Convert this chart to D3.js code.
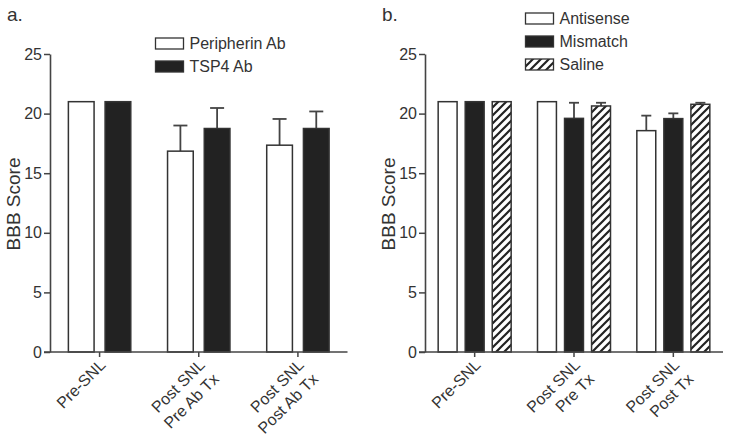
<!DOCTYPE html>
<html><head><meta charset="utf-8">
<script src="https://cdn.jsdelivr.net/npm/d3@7"></script>
<style>
body{margin:0;background:#fff;}
text{font-family:"Liberation Sans",Arial,Helvetica,sans-serif;fill:#333;}
</style></head><body>
<svg id="c" width="729" height="441"></svg>
<script>
// ---- data ----
const catsA = [["Pre-SNL"], ["Post SNL", "Pre Ab Tx"], ["Post SNL", "Post Ab Tx"]];
const seriesA = ["Peripherin Ab", "TSP4 Ab"];
const peripherinMean = [21, 16.85, 17.35];
const peripherinSem = [0, 2.15, 2.2];
const tsp4Mean = [21, 18.75, 18.75];
const tsp4Sem = [0, 1.72, 1.43];

const catsB = [["Pre-SNL"], ["Post SNL", "Pre Tx"], ["Post SNL", "Post Tx"]];
const seriesB = ["Antisense", "Mismatch", "Saline"];
const antisenseMean = [21, 21, 18.57];
const antisenseSem = [0, 0, 1.26];
const mismatchMean = [21, 19.6, 19.58];
const mismatchSem = [0, 1.31, 0.44];
const salineMean = [21, 20.64, 20.78];
const salineSem = [0, 0.27, 0.13];

const yTicks = [0, 5, 10, 15, 20, 25];
const yTitle = "BBB Score";

const svg = d3.select("#c");
const defs = svg.append("defs");
const pat = defs.append("pattern").attr("id", "hatch").attr("patternUnits", "userSpaceOnUse")
  .attr("width", 8).attr("height", 8);
pat.append("rect").attr("width", 8).attr("height", 8).attr("fill", "#fff");
pat.append("path").attr("d", "M-2,2 l4,-4 M0,8 l8,-8 M6,10 l4,-4")
  .attr("stroke", "#222").attr("stroke-width", 2.2);

const fills = {white: "#fff", black: "#222", hatch: "url(#hatch)"};

function panel(opt) {
  const g = svg.append("g");
  const y = d3.scaleLinear().domain([0, 25]).range([352, 54]);
  const keys = opt.cats.map((c, i) => i);
  const x = d3.scaleBand().domain(keys).range([opt.x0, opt.x1]).padding(0);
  const inner = d3.scaleBand().domain(opt.series).range([-opt.half, opt.half])
    .paddingInner(opt.pin).paddingOuter(0);
  const bw = inner.bandwidth();

  // bars
  opt.series.forEach((s, si) => {
    const means = opt.means[si], sems = opt.sems[si];
    const gs = g.append("g");
    keys.forEach(k => {
      const bx = x(k) + x.bandwidth() / 2 + inner(s);
      const m = means[k], e = sems[k];
      if (e > 0) {
        const cx = bx + bw / 2;
        gs.append("line").attr("x1", cx).attr("x2", cx).attr("y1", y(m)).attr("y2", y(m + e))
          .attr("stroke", "#444").attr("stroke-width", 1.8);
        gs.append("line").attr("x1", cx - opt.cap / 2).attr("x2", cx + opt.cap / 2)
          .attr("y1", y(m + e)).attr("y2", y(m + e))
          .attr("stroke", "#444").attr("stroke-width", 1.8);
      }
      gs.append("rect").attr("x", bx).attr("width", bw)
        .attr("y", y(m)).attr("height", y(0) - y(m))
        .attr("fill", fills[opt.fills[si]]).attr("stroke", "#333").attr("stroke-width", 1.5);
    });
  });

  // y axis
  const ya = g.append("g").attr("transform", `translate(${opt.x0},0)`)
    .call(d3.axisLeft(y).tickValues(yTicks).tickSize(6).tickSizeOuter(0).tickPadding(2));
  ya.select(".domain").attr("stroke", "#444").attr("stroke-width", 1.6);
  ya.selectAll(".tick line").attr("stroke", "#444").attr("stroke-width", 1.5);
  ya.selectAll(".tick text").style("font-size", "16px").attr("fill", "#333")
    .style("font-family", '"Liberation Sans",Arial,sans-serif');

  // x axis
  const xa = g.append("g").attr("transform", `translate(0,${y(0)})`)
    .call(d3.axisBottom(x).tickSize(5).tickSizeOuter(0).tickFormat(""));
  xa.select(".domain").remove();
  xa.selectAll(".tick text").remove();
  xa.append("line").attr("x1", opt.x0 - 6).attr("x2", opt.x1).attr("y1", 0).attr("y2", 0)
    .attr("stroke", "#444").attr("stroke-width", 1.6);
  xa.selectAll(".tick line").attr("stroke", "#444").attr("stroke-width", 1.5);
  const lh = 20 * Math.SQRT1_2;
  keys.forEach(k => {
    const cx = x(k) + x.bandwidth() / 2;
    opt.cats[k].forEach((line, li) => {
      g.append("text")
        .attr("transform", `translate(${cx + 7 + li * lh},${y(0) + 14 + li * lh}) rotate(-45)`)
        .attr("text-anchor", "end").style("font-size", "16px").text(line);
    });
  });

  // y title
  g.append("text").attr("transform", `translate(${opt.x0 - 30},204) rotate(-90)`)
    .attr("text-anchor", "middle").style("font-size", "19px").text(yTitle);

  // panel letter
  g.append("text").attr("x", opt.x0 - 43).attr("y", 21).style("font-size", "19px").text(opt.letter);

  // legend
  opt.series.forEach((s, si) => {
    const ly = opt.legY + si * 23;
    g.append("rect").attr("x", opt.legX).attr("y", ly).attr("width", 28).attr("height", 11)
      .attr("fill", fills[opt.fills[si]]).attr("stroke", "#333").attr("stroke-width", 1.3);
    g.append("text").attr("x", opt.legX + 34).attr("y", ly + 11).style("font-size", "16px").text(s);
  });
}

panel({
  cats: catsA, series: seriesA, x0: 50, x1: 347.5, half: 31.2, pin: 0.3, cap: 14,
  means: [peripherinMean, tsp4Mean], sems: [peripherinSem, tsp4Sem],
  fills: ["white", "black"], letter: "a.", legX: 155.5, legY: 38
});
panel({
  cats: catsB, series: seriesB, x0: 425, x1: 723, half: 36.5, pin: 0.3, cap: 10,
  means: [antisenseMean, mismatchMean, salineMean], sems: [antisenseSem, mismatchSem, salineSem],
  fills: ["white", "black", "hatch"], letter: "b.", legX: 525.5, legY: 13
});
</script></body></html>
